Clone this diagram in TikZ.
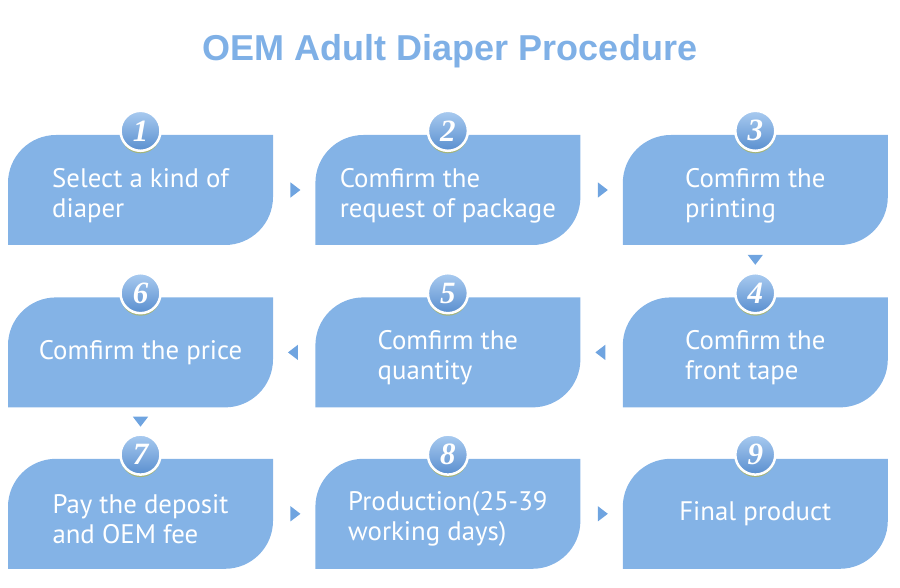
\documentclass[tikz,border=0pt]{standalone}
\usepackage{fontspec}
\setmainfont{PT Sans}
\newfontfamily\titlefont{Liberation Sans}
\newfontfamily\numfont{Liberation Serif}
\usetikzlibrary{positioning, shapes.geometric, shadows}
\definecolor{boxblue}{HTML}{84B3E6}
\definecolor{titleblue}{HTML}{7FB0E6}
\definecolor{arrowblue}{HTML}{6FA4E0}
\definecolor{badgelight}{HTML}{A9CBF0}
\definecolor{badgedark}{HTML}{5A8FCF}
\definecolor{badgegreen}{HTML}{A3B47A}
% two lines of box text, set a little low
\newcommand\twolines[2]{\rule{0pt}{30pt}#1\\#2}
\tikzset{x=1pt, y=1pt,
  stepbox/.style={minimum width=265pt, minimum height=110pt, inner sep=0pt,
    text=white, align=left, font=\fontsize{26.8}{30}\selectfont,
    path picture={\fill[boxblue] (path picture bounding box.south west)
      -- ([yshift=-48pt]path picture bounding box.north west)
      arc[start angle=180, end angle=90, radius=48pt]
      -- (path picture bounding box.north east)
      -- ([yshift=48pt]path picture bounding box.south east)
      arc[start angle=0, end angle=-90, radius=48pt] -- cycle;}},
  badge/.style={circle, minimum size=40pt, inner sep=0pt, draw=white, line width=2.5pt,
    top color=badgelight, bottom color=badgedark, text=white,
    font=\numfont\bfseries\itshape\fontsize{31}{31}\selectfont,
    general shadow={shadow yshift=-2.5pt, fill=badgegreen}},
  tri/.style={isosceles triangle, isosceles triangle apex angle=75, fill=arrowblue,
    minimum height=10pt, inner sep=0pt}}

\begin{document}
\begin{tikzpicture}
	\useasboundingbox (0,0) rectangle (900,-588);
	\node[text=titleblue, font=\titlefont\bfseries\fontsize{36}{36}\selectfont] (title) at (450,-51) {OEM Adult Diaper Procedure};

	\node[stepbox] (b1) at (140.5,-190) {\twolines{Select a kind of}{diaper}};
	\node[stepbox] (b2) [right=42pt of b1] {\twolines{Comfirm the}{request of package}};
	\node[stepbox] (b3) [right=42pt of b2] {\twolines{Comfirm the}{printing}};
	\node[stepbox] (b4) [below=52pt of b3] {\twolines{Comfirm the}{front tape}};
	\node[stepbox] (b5) [below=52pt of b2] {\twolines{Comfirm the}{quantity}};
	\node[stepbox] (b6) [below=52pt of b1] {Comfirm the price};
	\node[stepbox] (b7) [below=51pt of b6] {\twolines{Pay the deposit}{and OEM fee}};
	\node[stepbox] (b8) [below=51pt of b5] {\twolines{Production(25-39}{working days)}};
	\node[stepbox] (b9) [below=51pt of b4] {Final product};

	\foreach \i in {1,...,9}
		\node[badge] (n\i) at ([yshift=4pt]b\i.north) {\i};

	\path
		(b1.east) -- node[tri] {} (b2.west)
		(b2.east) -- node[tri] {} (b3.west)
		(b3.south) -- node[tri, shape border rotate=270] {} (n4.north)
		(b4.west) -- node[tri, shape border rotate=180] {} (b5.east)
		(b5.west) -- node[tri, shape border rotate=180] {} (b6.east)
		(b6.south) -- node[tri, shape border rotate=270] {} (n7.north)
		(b7.east) -- node[tri] {} (b8.west)
		(b8.east) -- node[tri] {} (b9.west)
		;
\end{tikzpicture}
\end{document}
